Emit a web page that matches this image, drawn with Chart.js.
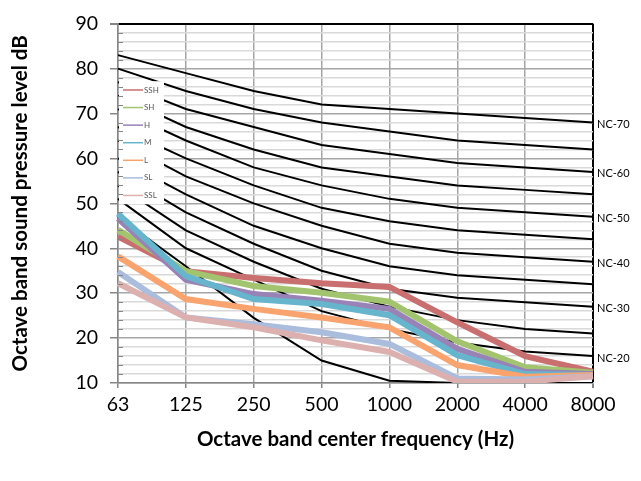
<!DOCTYPE html>
<html>
<head>
<meta charset="utf-8">
<script src="https://cdn.jsdelivr.net/npm/chart.js@4.4.0/dist/chart.umd.min.js"></script>
<style>
  html, body { margin: 0; padding: 0; background: #fff; }
</style>
</head>
<body>
<canvas id="graficoNC" width="641" height="481"></canvas>
<script>
// ======== DADOS =========
const freqs = ['63', '125', '250', '500', '1000', '2000', '4000', '8000'];

// espectros medidos
const serieNomes = ['SSH', 'SH', 'H', 'M', 'L', 'SL', 'SSL'];
const ssh = [42.6, 34.9, 33.4, 32.2, 31.4, 23.5, 16.0, 12.5];
const sh  = [44.1, 34.9, 31.6, 30.1, 28.1, 19.3, 13.5, 12.3];
const h   = [46.6, 33.0, 29.8, 28.3, 26.5, 17.6, 12.5, 12.0];
const m   = [47.7, 33.8, 28.7, 27.6, 25.1, 16.2, 12.0, 11.8];
const l   = [38.2, 28.7, 26.5, 24.6, 22.4, 14.0, 11.4, 11.8];
const sl  = [34.7, 24.6, 23.1, 21.3, 18.7, 11.0, 10.8, 11.5];
const ssl = [32.2, 24.6, 22.4, 19.5, 16.9, 10.3, 10.3, 11.5];

// curvas NC
const nc70 = [83, 79, 75, 72, 71, 70, 69, 68];
const nc65 = [80, 75, 71, 68, 66, 64, 63, 62];
const nc60 = [77, 71, 67, 63, 61, 59, 58, 57];
const nc55 = [74, 67, 62, 58, 56, 54, 53, 52];
const nc50 = [71, 64, 58, 54, 51, 49, 48, 47];
const nc45 = [67, 60, 54, 49, 46, 44, 43, 42];
const nc40 = [64, 56, 50, 45, 41, 39, 38, 37];
const nc35 = [60, 52, 45, 40, 36, 34, 33, 32];
const nc30 = [57, 48, 41, 35, 31, 29, 28, 27];
const nc25 = [54, 44, 37, 31, 27, 24, 22, 21];
const nc20 = [51, 40, 33, 26, 22, 19, 17, 16];
const ncBase = [47, 36, 24.5, 15, 10.5, 10, 10, 10];

const ncRotulos = ['NC-70', 'NC-60', 'NC-50', 'NC-40', 'NC-30', 'NC-20'];
const ncRotuloCurvas = [nc70, nc60, nc50, nc40, nc30, nc20];

const yTicks = [10, 20, 30, 40, 50, 60, 70, 80, 90];

// ======== ESTILO =========
const cores = ['#c96f6f', '#a3c46f', '#9882b6', '#67b4cd', '#f9a36e', '#abbddc', '#ddb0b0'];
const series = [ssh, sh, h, m, l, sl, ssl];
const ncCurvas = [nc70, nc65, nc60, nc55, nc50, nc45, nc40, nc35, nc30, nc25, nc20, ncBase];

Chart.defaults.font.family = 'Lato';
Chart.defaults.color = '#000';

const datasets = [];
series.forEach((d, i) => {
  datasets.push({
    label: serieNomes[i],
    data: d,
    borderColor: cores[i],
    backgroundColor: cores[i],
    borderWidth: 6,
    pointRadius: 0,
    tension: 0,
    fill: false,
    order: series.length - 1 - i,
    medido: true
  });
});
ncCurvas.forEach((d) => {
  datasets.push({
    label: '',
    data: d,
    borderColor: '#000',
    borderWidth: 2,
    pointRadius: 0,
    tension: 0,
    fill: false,
    order: 20
  });
});

// legenda dentro da área do gráfico
const legendaInterna = {
  id: 'legendaInterna',
  afterDatasetsDraw(chart) {
    const { ctx, chartArea, scales } = chart;
    const x0 = chartArea.left + 1;
    const y0 = scales.y.getPixelForValue(77.2);
    const y1 = scales.y.getPixelForValue(49.8);
    ctx.save();
    ctx.fillStyle = '#fff';
    ctx.fillRect(x0, y0, 45, y1 - y0);
    ctx.font = '8px Lato';
    ctx.textBaseline = 'middle';
    const meds = chart.data.datasets.filter(d => d.medido);
    const passo = (y1 - y0) / meds.length;
    meds.forEach((d, i) => {
      const yy = y0 + passo * (i + 0.5);
      ctx.strokeStyle = d.borderColor;
      ctx.lineWidth = 1.5;
      ctx.beginPath();
      ctx.moveTo(x0 + 4, yy);
      ctx.lineTo(x0 + 24, yy);
      ctx.stroke();
      ctx.fillStyle = '#595959';
      ctx.fillText(d.label, x0 + 25, yy);
    });
    // marcas menores do eixo y
    ctx.strokeStyle = '#868686';
    ctx.lineWidth = 1;
    for (let v = 12; v < 90; v += 2) {
      if (v % 10 === 0) continue;
      const yy = Math.round(scales.y.getPixelForValue(v)) + 0.5;
      ctx.beginPath();
      ctx.moveTo(chartArea.left, yy);
      ctx.lineTo(chartArea.left + 5, yy);
      ctx.stroke();
    }
    ctx.restore();
  }
};

// rótulos NC à direita
const rotulosNC = {
  id: 'rotulosNC',
  afterDraw(chart) {
    const { ctx, chartArea, scales } = chart;
    ctx.save();
    ctx.font = '11px Lato';
    ctx.fillStyle = '#000';
    ctx.textBaseline = 'middle';
    ncRotulos.forEach((t, i) => {
      const c = ncRotuloCurvas[i];
      ctx.fillText(t, chartArea.right + 4, scales.y.getPixelForValue(c[c.length - 1]) + 2);
    });
    ctx.restore();
  }
};

// ======== GRÁFICO =========
const ctxNC = document.getElementById('graficoNC');
new Chart(ctxNC, {
  type: 'line',
  data: { labels: freqs, datasets: datasets },
  plugins: [legendaInterna, rotulosNC],
  options: {
    responsive: false,
    devicePixelRatio: 1,
    animation: false,
    layout: { padding: { left: 0, right: 48, top: 20, bottom: 0 } },
    plugins: {
      legend: { display: false },
      tooltip: { enabled: false }
    },
    scales: {
      x: {
        offset: false,
        afterFit: (s) => { s.height = 98; },
        grid: {
          offset: false,
          color: (c) => c.index === freqs.length - 1 ? '#000' : '#a6a6a6',
          lineWidth: (c) => c.index === freqs.length - 1 ? 2 : 1.5,
          tickColor: '#868686',
          tickLength: 5
        },
        border: { color: '#868686', width: 1.5 },
        ticks: { font: { size: 19.5 }, color: '#000', padding: 5, maxRotation: 0, autoSkip: false },
        title: {
          display: true,
          text: 'Octave band center frequency (Hz)',
          font: { size: 20.5, weight: 'bold' },
          color: '#000',
          padding: { top: 0, bottom: 29 }
        }
      },
      y: {
        min: 10,
        max: 90,
        afterFit: (s) => { s.width = 118; },
        afterBuildTicks: (s) => {
          const t = [];
          for (let v = 10; v <= 90; v += 2) t.push({ value: v });
          s.ticks = t;
        },
        grid: {
          color: (c) => {
            const v = c.tick.value;
            if (v === 90) return '#000';
            return v % 10 === 0 ? '#a6a6a6' : '#d9d9d9';
          },
          lineWidth: (c) => c.tick.value === 90 ? 2 : 1.5,
          tickColor: (c) => yTicks.includes(c.tick.value) ? '#868686' : 'rgba(0,0,0,0)',
          tickLength: 8
        },
        border: { color: '#868686', width: 1.5 },
        ticks: {
          font: { size: 19.5 },
          color: '#000',
          padding: 12,
          autoSkip: false,
          callback: (v) => yTicks.includes(v) ? String(v) : ''
        },
        title: {
          display: true,
          text: 'Octave band sound pressure level dB',
          font: { size: 20.5, weight: 'bold' },
          color: '#000',
          padding: { top: 8, bottom: 0 }
        }
      }
    }
  }
});
</script>
</body>
</html>
